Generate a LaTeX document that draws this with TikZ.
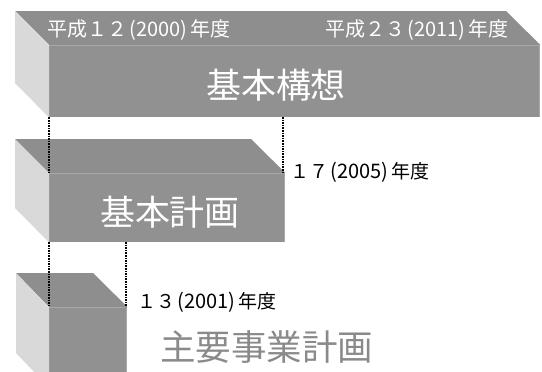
\documentclass[tikz,border=0pt]{standalone}
\usepackage{fontspec}
\newfontfamily\jp{Noto Sans CJK JP}
\definecolor{topc}{HTML}{8E8E8E}
\definecolor{frontc}{HTML}{919191}
\definecolor{sidec}{HTML}{D9D9D9}
\definecolor{edgec}{HTML}{A8A8A8}
\definecolor{txtgray}{HTML}{8A8A8A}
\newcommand{\yr}[1]{\hspace{2.5pt}{\fontsize{20}{20}\selectfont(#1)}\hspace{2.5pt}}
\tikzset{
  front/.style={fill=frontc, draw=none, inner sep=0pt, font=\jp\fontsize{35}{35}\selectfont, text=white},
  topface/.style={fill=topc},
  sideface/.style={fill=sidec},
  edge/.style={draw=edgec, line width=1.5pt},
  guide/.style={densely dotted, line width=1.6pt, black},
  yearw/.style={font=\jp\fontsize{20}{20}\selectfont, text=white, inner sep=0pt, anchor=west},
  yearb/.style={font=\jp\fontsize{19}{19}\selectfont, text=black, inner sep=0pt, anchor=west},
}
\begin{document}
\begin{tikzpicture}[x=1pt,y=-1pt]
\useasboundingbox (0,0) rectangle (542,372);
\clip (0,0) rectangle (542,372);
% box 1
\node[front, minimum width=491pt, minimum height=72pt, anchor=north west] (kousou) at (49,45) {};
\fill[topface] (15,11) -- (506,11) -- (kousou.north east) -- (kousou.north west) -- cycle;
\fill[sideface] (15,11) -- (kousou.north west) -- (kousou.south west) -- (15,83) -- cycle;
\draw[edge] ([xshift=-0.75pt]kousou.north east) -- ([xshift=-0.75pt]kousou.south east);
\draw[edge, line width=1pt] (kousou.north west) -- (kousou.north east);
\node[front, fill=none] at (276,85) {基本構想};
\node[yearw] (y1) at (47,30) {平成１２\yr{2000}年度};
\node[yearw] (y2) at (325,30) {平成２３\yr{2011}年度};
% box 2
\node[front, minimum width=236pt, minimum height=69pt, anchor=north west] (keikaku) at (49,173) {};
\fill[topface] (15,139) -- (251,139) -- (keikaku.north east) -- (keikaku.north west) -- cycle;
\fill[sideface] (15,139) -- (keikaku.north west) -- (keikaku.south west) -- (15,208) -- cycle;
\draw[edge] ([xshift=-0.75pt]keikaku.north east) -- ([xshift=-0.75pt]keikaku.south east);
\draw[edge, line width=1pt] (keikaku.north west) -- (keikaku.north east);
\node[front, fill=none] at (170,212) {基本計画};
% box 3
\node[front, minimum width=78pt, minimum height=80pt, anchor=north west] (jigyo) at (49,307) {};
\fill[topface] (16,273) -- (93,273) -- (jigyo.north east) -- (jigyo.north west) -- cycle;
\fill[sideface] (16,273) -- (jigyo.north west) -- (jigyo.south west) -- (16,353) -- cycle;
\draw[edge] ([xshift=-0.75pt]jigyo.north east) -- ([xshift=-0.75pt]jigyo.south east);
\draw[edge, line width=1pt] (jigyo.north west) -- (jigyo.north east);
\node[front, fill=none, text=txtgray, anchor=west, font=\jp\fontsize{35.5}{35.5}\selectfont] (jlabel) at (160,347) {主要事業計画};
% guides
\coordinate (g1) at (283,117);
\coordinate (g2) at (283,173);
\coordinate (g3) at (126,242);
\coordinate (g4) at (126,307);
\draw[guide] (kousou.south west) -- (keikaku.north west);
\draw[guide] (g1) -- (g2);
\draw[guide] (keikaku.south west) -- (jigyo.north west);
\draw[guide] (g3) -- (g4);
% year labels
\node[yearb] (y3) at (290,172) {１７\yr{2005}年度};
\node[yearb] (y4) at (137,302) {１３\yr{2001}年度};
\end{tikzpicture}
\end{document}
